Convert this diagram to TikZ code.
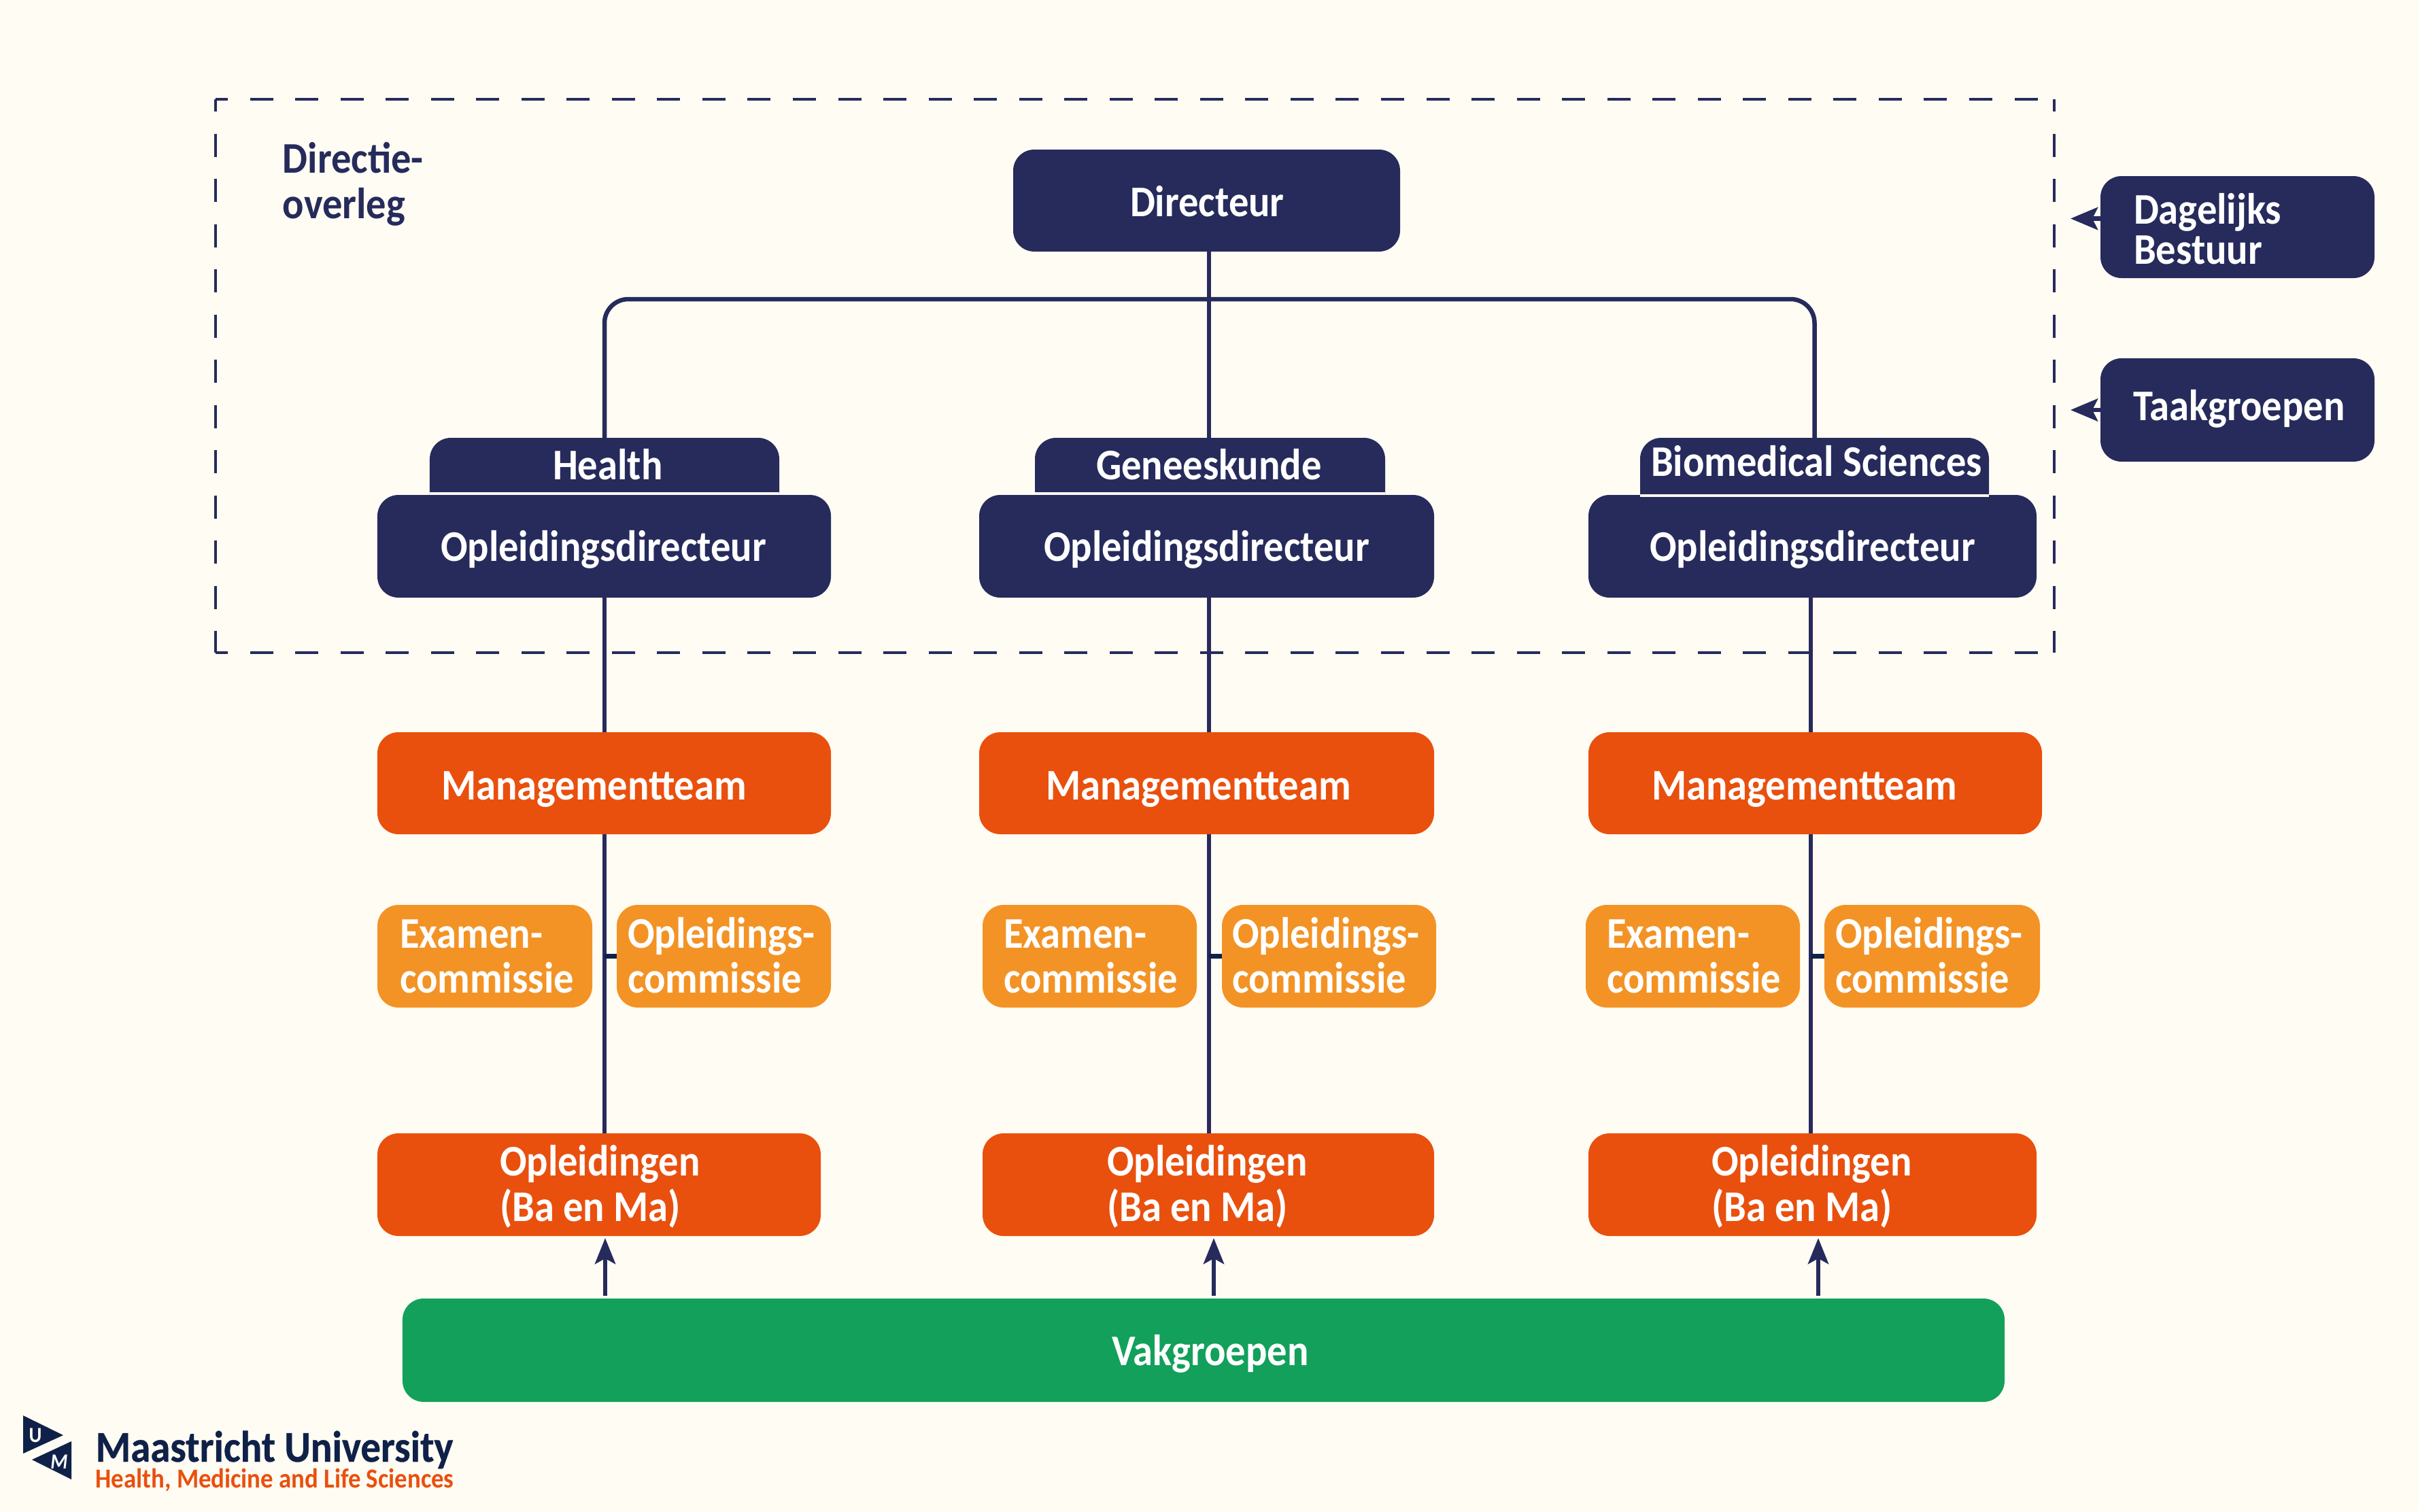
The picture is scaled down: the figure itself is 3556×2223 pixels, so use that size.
\documentclass[tikz,border=0pt]{standalone}
\usepackage{fontspec}
\setmainfont[FakeStretch=0.91]{Carlito}
\usetikzlibrary{arrows.meta,calc}
\pgfdeclarelayer{back}
\pgfdeclarelayer{wires}
\pgfsetlayers{back,wires,main}
\definecolor{bgc}{HTML}{FFFCF3}
\definecolor{navy}{HTML}{262B5C}
\definecolor{ink}{HTML}{0F2148}
\definecolor{redor}{HTML}{E9500E}
\definecolor{amber}{HTML}{F39325}
\definecolor{groen}{HTML}{12A05B}
\newcommand\lsk{18.8pt}
\newcommand\fsz{18.3pt}
% name, style, x0,y0,x1,y1, text left, first baseline, text
\newcommand\bx[9]{%
  \pgfmathsetmacro\bw{(#5-#3)*0.01}%
  \pgfmathsetmacro\bh{(#6-#4)*0.01}%
  \pgfmathsetmacro\cx{(#3+#5)/2}%
  \pgfmathsetmacro\cy{(#4+#6)/2}%
  \pgfmathsetmacro\dx{(#7-\cx)*0.01}%
  \pgfmathsetmacro\dy{(\cy-#8-1)*0.01}%
  \node[#2,minimum width=\bw cm,minimum height=\bh cm] (#1) at (\cx,\cy)
    {\makebox[0pt][l]{\hspace*{\dx cm}\raisebox{\dy cm}[0pt][0pt]{\fontsize{\fsz}{\lsk}\selectfont\bfseries\begin{tabular}[t]{@{}l@{}}#9\end{tabular}}}};%
}
\tikzset{
  boxbase/.style={rectangle,rounded corners=0.31cm,inner sep=0pt,outer sep=0pt,text=white},
  nav/.style={boxbase,fill=navy},
  mgt/.style={boxbase,fill=redor},
  com/.style={boxbase,fill=amber},
  grp/.style={boxbase,fill=groen},
  wire/.style={draw=navy,line width=0.065cm},
  stub/.style={draw=ink,line width=0.065cm},
  dashside/.style={draw=navy,line width=0.045cm,dash pattern=on 0.34cm off 0.325cm,dash phase=0.16cm},
  upar/.style={wire,-{Stealth[length=0.38cm,width=0.3cm,inset=0.08cm]},shorten >=0.03cm,shorten <=0.04cm},
  sidear/.style={wire,-{Stealth[length=0.4cm,width=0.33cm,inset=0.08cm]}},
  tabline/.style={draw=bgc,line width=0.04cm},
}
\begin{document}
\begin{tikzpicture}[x=0.01cm,y=-0.01cm]
\useasboundingbox (0,0) rectangle (3556,2223);
\begin{pgfonlayer}{back}
\fill[bgc] (0,0) rectangle (3556,2223);
\end{pgfonlayer}

% boxes
\bx{dir}{nav}{1490}{220}{2059}{370}{1662}{317}{Directeur}
\renewcommand\lsk{16.5pt}
\bx{dag}{nav}{3089}{259}{3492}{409}{3138}{328}{Dagelijks\\Bestuur}
\renewcommand\lsk{18.8pt}
\bx{taak}{nav}{3089}{527}{3492}{679}{3137}{617}{Taakgroepen}

\bx{tabA}{nav}{632}{644}{1146}{760}{813}{704}{Health}
\bx{tabB}{nav}{1522}{644}{2037}{760}{1612}{704}{Geneeskunde}
\bx{tabC}{nav}{2412}{644}{2925}{760}{2428}{699}{Biomedical Sciences}
\bx{oplA}{nav}{555}{728}{1222}{879}{648}{824}{Opleidingsdirecteur}
\bx{oplB}{nav}{1440}{728}{2109}{879}{1535}{824}{Opleidingsdirecteur}
\bx{oplC}{nav}{2336}{728}{2995}{879}{2426}{824}{Opleidingsdirecteur}
\coordinate (lnA) at (889,726);
\coordinate (lnB) at (1779,726);
\coordinate (lnC) at (2669,729);
\draw[tabline] (lnA -| tabA.west) -- (lnA -| tabA.east);
\draw[tabline] (lnB -| tabB.west) -- (lnB -| tabB.east);
\draw[tabline] (lnC -| tabC.west) -- (lnC -| tabC.east);

\bx{mgtA}{mgt}{555}{1077}{1222}{1227}{649}{1175}{Managementteam}
\bx{mgtB}{mgt}{1440}{1077}{2109}{1227}{1538}{1175}{Managementteam}
\bx{mgtC}{mgt}{2336}{1077}{3003}{1227}{2429}{1175}{Managementteam}

\bx{exaA}{com}{555}{1331}{871}{1482}{588}{1393}{Examen-\\commissie}
\bx{ocoA}{com}{907}{1331}{1222}{1482}{923}{1393}{Opleidings-\\commissie}
\bx{exaB}{com}{1445}{1331}{1760}{1482}{1476}{1393}{Examen-\\commissie}
\bx{ocoB}{com}{1797}{1331}{2112}{1482}{1812}{1393}{Opleidings-\\commissie}
\bx{exaC}{com}{2332}{1331}{2647}{1482}{2363}{1393}{Examen-\\commissie}
\bx{ocoC}{com}{2683}{1331}{3000}{1482}{2699}{1393}{Opleidings-\\commissie}

\bx{ondA}{mgt}{555}{1667}{1207}{1818}{735}{1728}{Opleidingen\\(Ba en Ma)}
\bx{ondB}{mgt}{1445}{1667}{2109}{1818}{1628}{1728}{Opleidingen\\(Ba en Ma)}
\bx{ondC}{mgt}{2336}{1667}{2995}{1818}{2517}{1728}{Opleidingen\\(Ba en Ma)}

\bx{vak}{grp}{592}{1910}{2948}{2062}{1635}{2007}{Vakgroepen}

\node[anchor=base west,inner sep=0pt,text=navy] (dirov) at (415,254)
  {\fontsize{\fsz}{19.2pt}\selectfont\bfseries\begin{tabular}[t]{@{}l@{}}Directie-\\overleg\end{tabular}};

% connectors
\coordinate (fork) at (1778,440);
\coordinate (spA) at (889,900);
\coordinate (spB) at (1778,900);
\coordinate (spC) at (2663,900);
\coordinate (arA) at (890,1860);
\coordinate (arB) at (1785,1860);
\coordinate (arC) at (2674,1860);
\coordinate (sdA) at (3045,321.5);
\coordinate (sdB) at (3045,603);

\begin{pgfonlayer}{wires}
% dashed frame
\coordinate (fa) at (317,146);
\coordinate (fb) at (3021,146);
\coordinate (fc) at (3021,960);
\coordinate (fd) at (317,960);
\draw[dashside] (fa) -- (fb);
\draw[dashside] (fb) -- (fc);
\draw[dashside] (fa) -- (fd);
\draw[dashside] (fd) -- (fc);

\draw[wire] (fork |- dir.south) -- (fork |- tabB.north);
\draw[wire,rounded corners=0.35cm] (tabA.north) |- (fork) -| (tabC.north);
\draw[wire] (spA |- oplA.south) -- (spA |- ondA.north);
\draw[wire] (spB |- oplB.south) -- (spB |- ondB.north);
\draw[wire] (spC |- oplC.south) -- (spC |- ondC.north);
\draw[stub] (spA |- ocoA.west) -- (ocoA.west);
\draw[stub] (spB |- ocoB.west) -- (ocoB.west);
\draw[stub] (spC |- ocoC.west) -- (ocoC.west);
\draw[upar] (arA |- vak.north) -- (arA |- ondA.south);
\draw[upar] (arB |- vak.north) -- (arB |- ondB.south);
\draw[upar] (arC |- vak.north) -- (arC |- ondC.south);
\draw[sidear] (sdA -| dag.west) -- (sdA);
\draw[sidear] (sdB -| taak.west) -- (sdB);
\end{pgfonlayer}

% logo
\fill[ink] (34,2082) -- (93,2111) -- (34,2138) -- cycle;
\fill[ink] (105,2120) -- (47,2147) -- (105,2176) -- cycle;
\node[text=white,inner sep=0pt] (logoU) at (52,2111) {\fontsize{9pt}{9pt}\selectfont\bfseries U};
\node[text=white,inner sep=0pt] (logoM) at (87,2150) {\fontsize{9pt}{9pt}\selectfont\bfseries\itshape M};
\node[anchor=base west,inner sep=0pt,text=ink] (mu) at (140,2150)
  {\fontsize{18.4pt}{18pt}\selectfont\bfseries\addfontfeature{FakeBold=0.5}Maastricht University};
\node[anchor=base west,inner sep=0pt,text=redor] (hmls) at (140,2188)
  {\fontsize{11.5pt}{12pt}\selectfont\bfseries Health, Medicine and Life Sciences};
\end{tikzpicture}
\end{document}
